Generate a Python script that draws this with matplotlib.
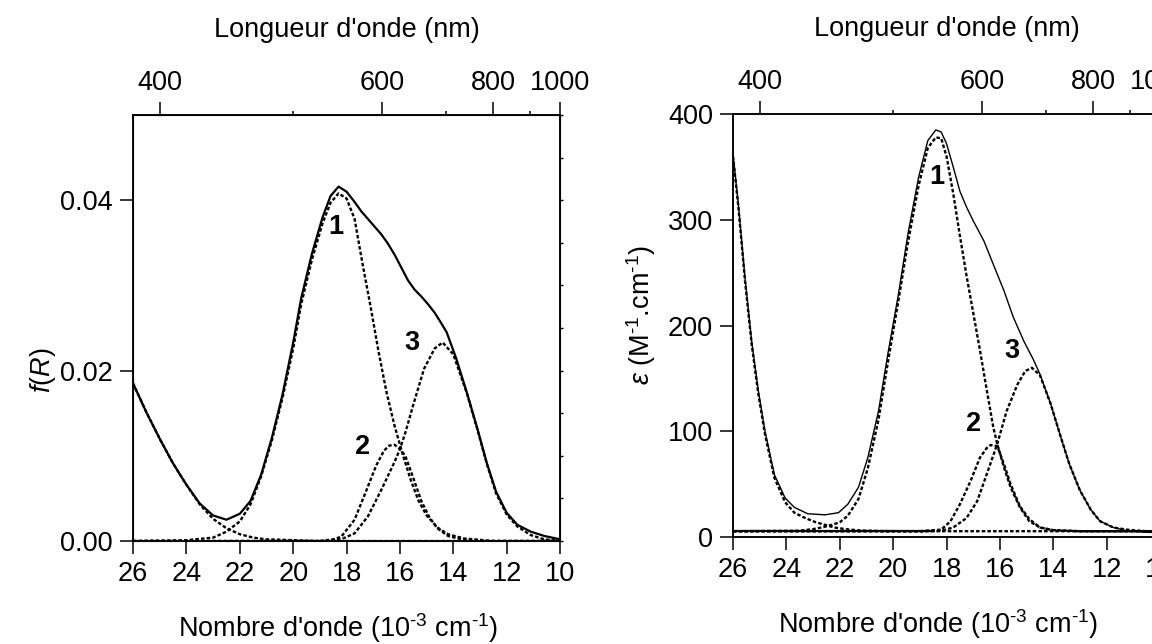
import numpy as np
import matplotlib
matplotlib.use('Agg')
import matplotlib.pyplot as plt

# fonts : Arial-like everywhere, mathtext too
plt.rcParams['font.family'] = ['Liberation Sans', 'DejaVu Sans']
plt.rcParams['mathtext.fontset'] = 'custom'
plt.rcParams['mathtext.rm'] = 'Liberation Sans'
plt.rcParams['mathtext.it'] = 'Liberation Sans:italic'
plt.rcParams['mathtext.bf'] = 'Liberation Sans:bold'
FS = 19.5

# ---------------- left panel : f(R) ----------------
fr_x = [26.0, 25.5, 25.0, 24.5, 24.0, 23.5, 23.0, 22.5, 22.0, 21.6, 21.2, 20.8, 20.4,
        20.0, 19.7, 19.3, 18.9, 18.6, 18.3, 18.0, 17.7, 17.45, 17.2, 16.95, 16.7, 16.45,
        16.2, 15.95, 15.7, 15.45, 15.2, 14.95, 14.7, 14.5, 14.25, 13.9, 13.5, 13.1, 12.75,
        12.4, 12.0, 11.6, 11.1, 10.6, 10.0]
fr_y = [0.0185, 0.0151, 0.0120, 0.0091, 0.0066, 0.0044, 0.0030, 0.0025, 0.0032, 0.0047,
        0.0078, 0.0121, 0.0172, 0.0233, 0.0285, 0.0337, 0.0380, 0.0405, 0.0416, 0.0410,
        0.0398, 0.0387, 0.0378, 0.0369, 0.0360, 0.0349, 0.0336, 0.0321, 0.0306, 0.0295,
        0.0287, 0.0278, 0.0268, 0.0258, 0.0245, 0.0215, 0.0175, 0.0132, 0.0092, 0.0058,
        0.0033, 0.0019, 0.0011, 0.0006, 0.0002]

fr_uv_x = [26.0, 25.5, 25.0, 24.5, 24.0, 23.5, 23.0, 22.5, 22.0, 21.5, 21.0, 20.0, 19.0, 10.0]
fr_uv_y = [0.0185, 0.0151, 0.0120, 0.0091, 0.0066, 0.0043, 0.0026, 0.0015, 0.0008, 0.0004,
           0.0002, 0.0001, 0.0, 0.0]

fr_b1_x = [26.0, 24.0, 23.0, 22.5, 22.0, 21.6, 21.2, 20.8, 20.4, 20.0, 19.7, 19.3, 18.9,
           18.6, 18.3, 18.0, 17.7, 17.4, 17.1, 16.8, 16.5, 16.2, 15.9, 15.6, 15.3, 15.0,
           14.6, 14.2, 13.6, 12.5, 10.0]
fr_b1_y = [0.0, 0.0001, 0.0004, 0.0011, 0.0023, 0.0043, 0.0076, 0.0118, 0.0168, 0.0226,
           0.0278, 0.0330, 0.0373, 0.0397, 0.0408, 0.0402, 0.0378, 0.0325, 0.0275, 0.0222,
           0.0174, 0.0135, 0.0102, 0.0072, 0.0047, 0.0030, 0.0016, 0.0008, 0.0003, 0.0, 0.0]

fr_b2_x = [26.0, 19.0, 18.5, 18.2, 17.7, 17.2, 16.9, 16.6, 16.4, 16.2, 16.0, 15.8, 15.5,
           15.2, 14.9, 14.6, 14.2, 13.7, 13.0, 10.0]
fr_b2_y = [0.0, 0.0, 0.0002, 0.0005, 0.0025, 0.0064, 0.0088, 0.0106, 0.0112, 0.0113, 0.0108,
           0.0100, 0.0074, 0.0047, 0.0028, 0.0015, 0.0006, 0.0002, 0.0, 0.0]

fr_b3_x = [26.0, 19.0, 18.2, 17.7, 17.2, 16.7, 16.2, 16.0, 15.8, 15.5, 15.1, 14.7, 14.4,
           14.0, 13.5, 13.1, 12.75, 12.4, 12.0, 11.6, 11.1, 10.6, 10.0]
fr_b3_y = [0.0, 0.0, 0.0002, 0.0009, 0.0029, 0.0060, 0.0093, 0.0108, 0.0127, 0.0160, 0.0202,
           0.0226, 0.0233, 0.0219, 0.0174, 0.0131, 0.0091, 0.0056, 0.0031, 0.0017, 0.0007,
           0.0002, 0.0]

# ---------------- right panel : epsilon ----------------
eps_x = [26.0, 25.8, 25.55, 25.3, 25.05, 24.8, 24.45, 24.05, 23.7, 23.2, 22.55, 22.05, 21.7,
         21.3, 20.95, 20.55, 20.2, 19.8, 19.45, 19.05, 18.7, 18.4, 18.2, 18.0, 17.75, 17.5,
         17.25, 17.0, 16.6, 16.25, 15.85, 15.5, 15.1, 14.75, 14.5, 14.1, 13.75, 13.4, 13.0,
         12.6, 12.25, 11.75, 11.25, 10.5, 10.0]
eps_y = [362, 315, 245, 185, 138, 100, 59, 37, 28, 22, 21, 23, 31, 47, 75, 119, 173, 230,
         286, 340, 375, 385, 383, 372, 350, 327, 312, 299, 280, 258, 233, 208, 185, 168,
         154, 126, 97, 69, 44, 26, 15, 9, 6, 4.5, 4]

eps_uv_x = [26.0, 25.8, 25.55, 25.3, 25.05, 24.8, 24.45, 24.05, 23.7, 23.3, 22.9, 22.55,
            22.2, 21.8, 21.3, 20.5, 19.5, 10.0]
eps_uv_y = [360, 312, 242, 182, 135, 97, 56, 33, 23, 18, 14, 11.5, 9, 7.5, 6.3, 5.7, 5.5, 5.5]

eps_b1_x = [26.0, 23.5, 23.0, 22.6, 22.3, 22.0, 21.7, 21.3, 20.95, 20.55, 20.2, 19.8, 19.45,
            19.05, 18.7, 18.4, 18.2, 18.0, 17.75, 17.5, 17.25, 17.0, 16.75, 16.5, 16.25,
            16.1, 15.85, 15.6, 15.25, 14.9, 14.5, 14.0, 13.0, 10.0]
eps_b1_y = [5.5, 6, 7.5, 9.5, 11.5, 14, 20, 36, 65, 111, 165, 224, 278, 332, 368, 378, 377,
            360, 325, 285, 247, 212, 177, 140, 104, 88, 66, 47, 28, 15, 9, 6.5, 5.5, 5.5]

eps_b2_x = [26.0, 19.0, 18.2, 17.85, 17.5, 17.1, 16.75, 16.5, 16.35, 16.1, 15.85, 15.6,
            15.25, 14.9, 14.5, 14.0, 13.0, 10.0]
eps_b2_y = [5.5, 5.5, 7, 15, 31, 53, 75, 84, 87, 86, 69, 50, 29, 17, 9, 6.5, 5.5, 5.5]

eps_b3_x = [26.0, 19.0, 18.2, 17.75, 17.25, 16.85, 16.5, 16.1, 15.75, 15.35, 15.05, 14.8,
            14.5, 14.1, 13.75, 13.4, 13.0, 12.6, 12.25, 11.75, 11.25, 10.5, 10.0]
eps_b3_y = [5.5, 5.5, 6, 9, 18, 34, 59, 88, 119, 144, 157, 160, 153, 126, 97, 69, 44, 26,
            15, 9, 7, 5.5, 5.5]

eps_base_x = [26.0, 18.5]
eps_base_y = [5.5, 5.5]

# band labels : (text, wavenumber, value)
fr_labels = [('1', 18.4, 0.0368), ('2', 17.4, 0.0110), ('3', 15.55, 0.0232)]
eps_labels = [('1', 18.35, 340), ('2', 17.0, 107), ('3', 15.55, 176)]

wl_major = [400, 600, 800, 1000]
wl_minor = [500, 700, 900]

DOT = (0, (1.5, 0.9))
HY = '\u2010'   # short hyphen for the exponents, like the original

fig = plt.figure(figsize=(11.52, 6.44), dpi=100)
axL = fig.add_axes([0.1155, 0.1599, 0.3707, 0.6615])
axR = fig.add_axes([0.6363, 0.1661, 0.3707, 0.6568])


def style_axes(ax):
    for sp in ax.spines.values():
        sp.set_linewidth(1.1)
    ax.set_xlim(26, 10)
    ax.set_xticks(np.arange(26, 9, -2))
    ax.tick_params(axis='both', which='major', direction='out', length=9.5, width=1.1,
                   labelsize=FS, pad=5)
    ax.tick_params(axis='x', top=False)
    ax.tick_params(axis='y', right=False)
    # top axis in wavelength
    top = ax.twiny()
    top.set_xlim(ax.get_xlim())
    top.set_xticks([1e4 / w for w in wl_major])
    top.set_xticklabels([str(w) for w in wl_major])
    top.set_xticks([1e4 / w for w in wl_minor], minor=True)
    top.tick_params(axis='x', which='major', direction='out', length=9.5, width=1.1,
                    labelsize=FS, pad=4)
    top.tick_params(axis='x', which='minor', direction='out', length=3, width=1.1)
    for sp in top.spines.values():
        sp.set_linewidth(1.1)
    ax.text(0.5, 1.2, "Longueur d'onde (nm)", transform=ax.transAxes, ha='center',
            va='center', fontsize=FS)
    ax.text(0.48, -0.205, "Nombre d'onde (10$^{" + HY + "3}$ cm$^{" + HY + "1}$)",
            transform=ax.transAxes, ha='center', va='center', fontsize=FS)
    return top


# left panel
axL.plot(fr_x, fr_y, color='black', lw=1.6, zorder=3)
for xs, ys in [(fr_uv_x, fr_uv_y), (fr_b1_x, fr_b1_y), (fr_b2_x, fr_b2_y), (fr_b3_x, fr_b3_y)]:
    axL.plot(xs, ys, color='black', lw=1.7, linestyle=DOT, zorder=3)
axL.set_ylim(0, 0.05)
axL.set_yticks([0.0, 0.02, 0.04])
axL.set_yticklabels(['0.00', '0.02', '0.04'])
style_axes(axL)
axL.set_ylabel('$f$($R$)', fontsize=FS)
axL.yaxis.set_label_coords(-0.175, 0.4)
side = axL.twinx()
side.set_ylim(0, 0.05)
side.set_yticks(np.arange(0, 0.0501, 0.005))
side.tick_params(axis='y', direction='out', length=2.5, width=1.0, labelright=False)
for t, x, y in fr_labels:
    axL.text(x, y, t, fontsize=FS, fontweight='bold', ha='center', va='center')

# right panel
axR.plot(eps_x, eps_y, color='black', lw=1.0, zorder=3)
axR.plot(eps_base_x, eps_base_y, color='black', lw=1.6, zorder=3)
for xs, ys in [(eps_uv_x, eps_uv_y), (eps_b1_x, eps_b1_y), (eps_b2_x, eps_b2_y),
               (eps_b3_x, eps_b3_y)]:
    axR.plot(xs, ys, color='black', lw=1.7, linestyle=DOT, zorder=3)
axR.set_ylim(0, 400)
axR.set_yticks([0, 100, 200, 300, 400])
style_axes(axR)
axR.set_ylabel(r'$\varepsilon$ (M$^{' + HY + '1}$.cm$^{' + HY + '1}$)', fontsize=FS)
axR.yaxis.set_label_coords(-0.175, 0.525)
for t, x, y in eps_labels:
    axR.text(x, y, t, fontsize=FS, fontweight='bold', ha='center', va='center')

fig.savefig('out.png', dpi=100)
